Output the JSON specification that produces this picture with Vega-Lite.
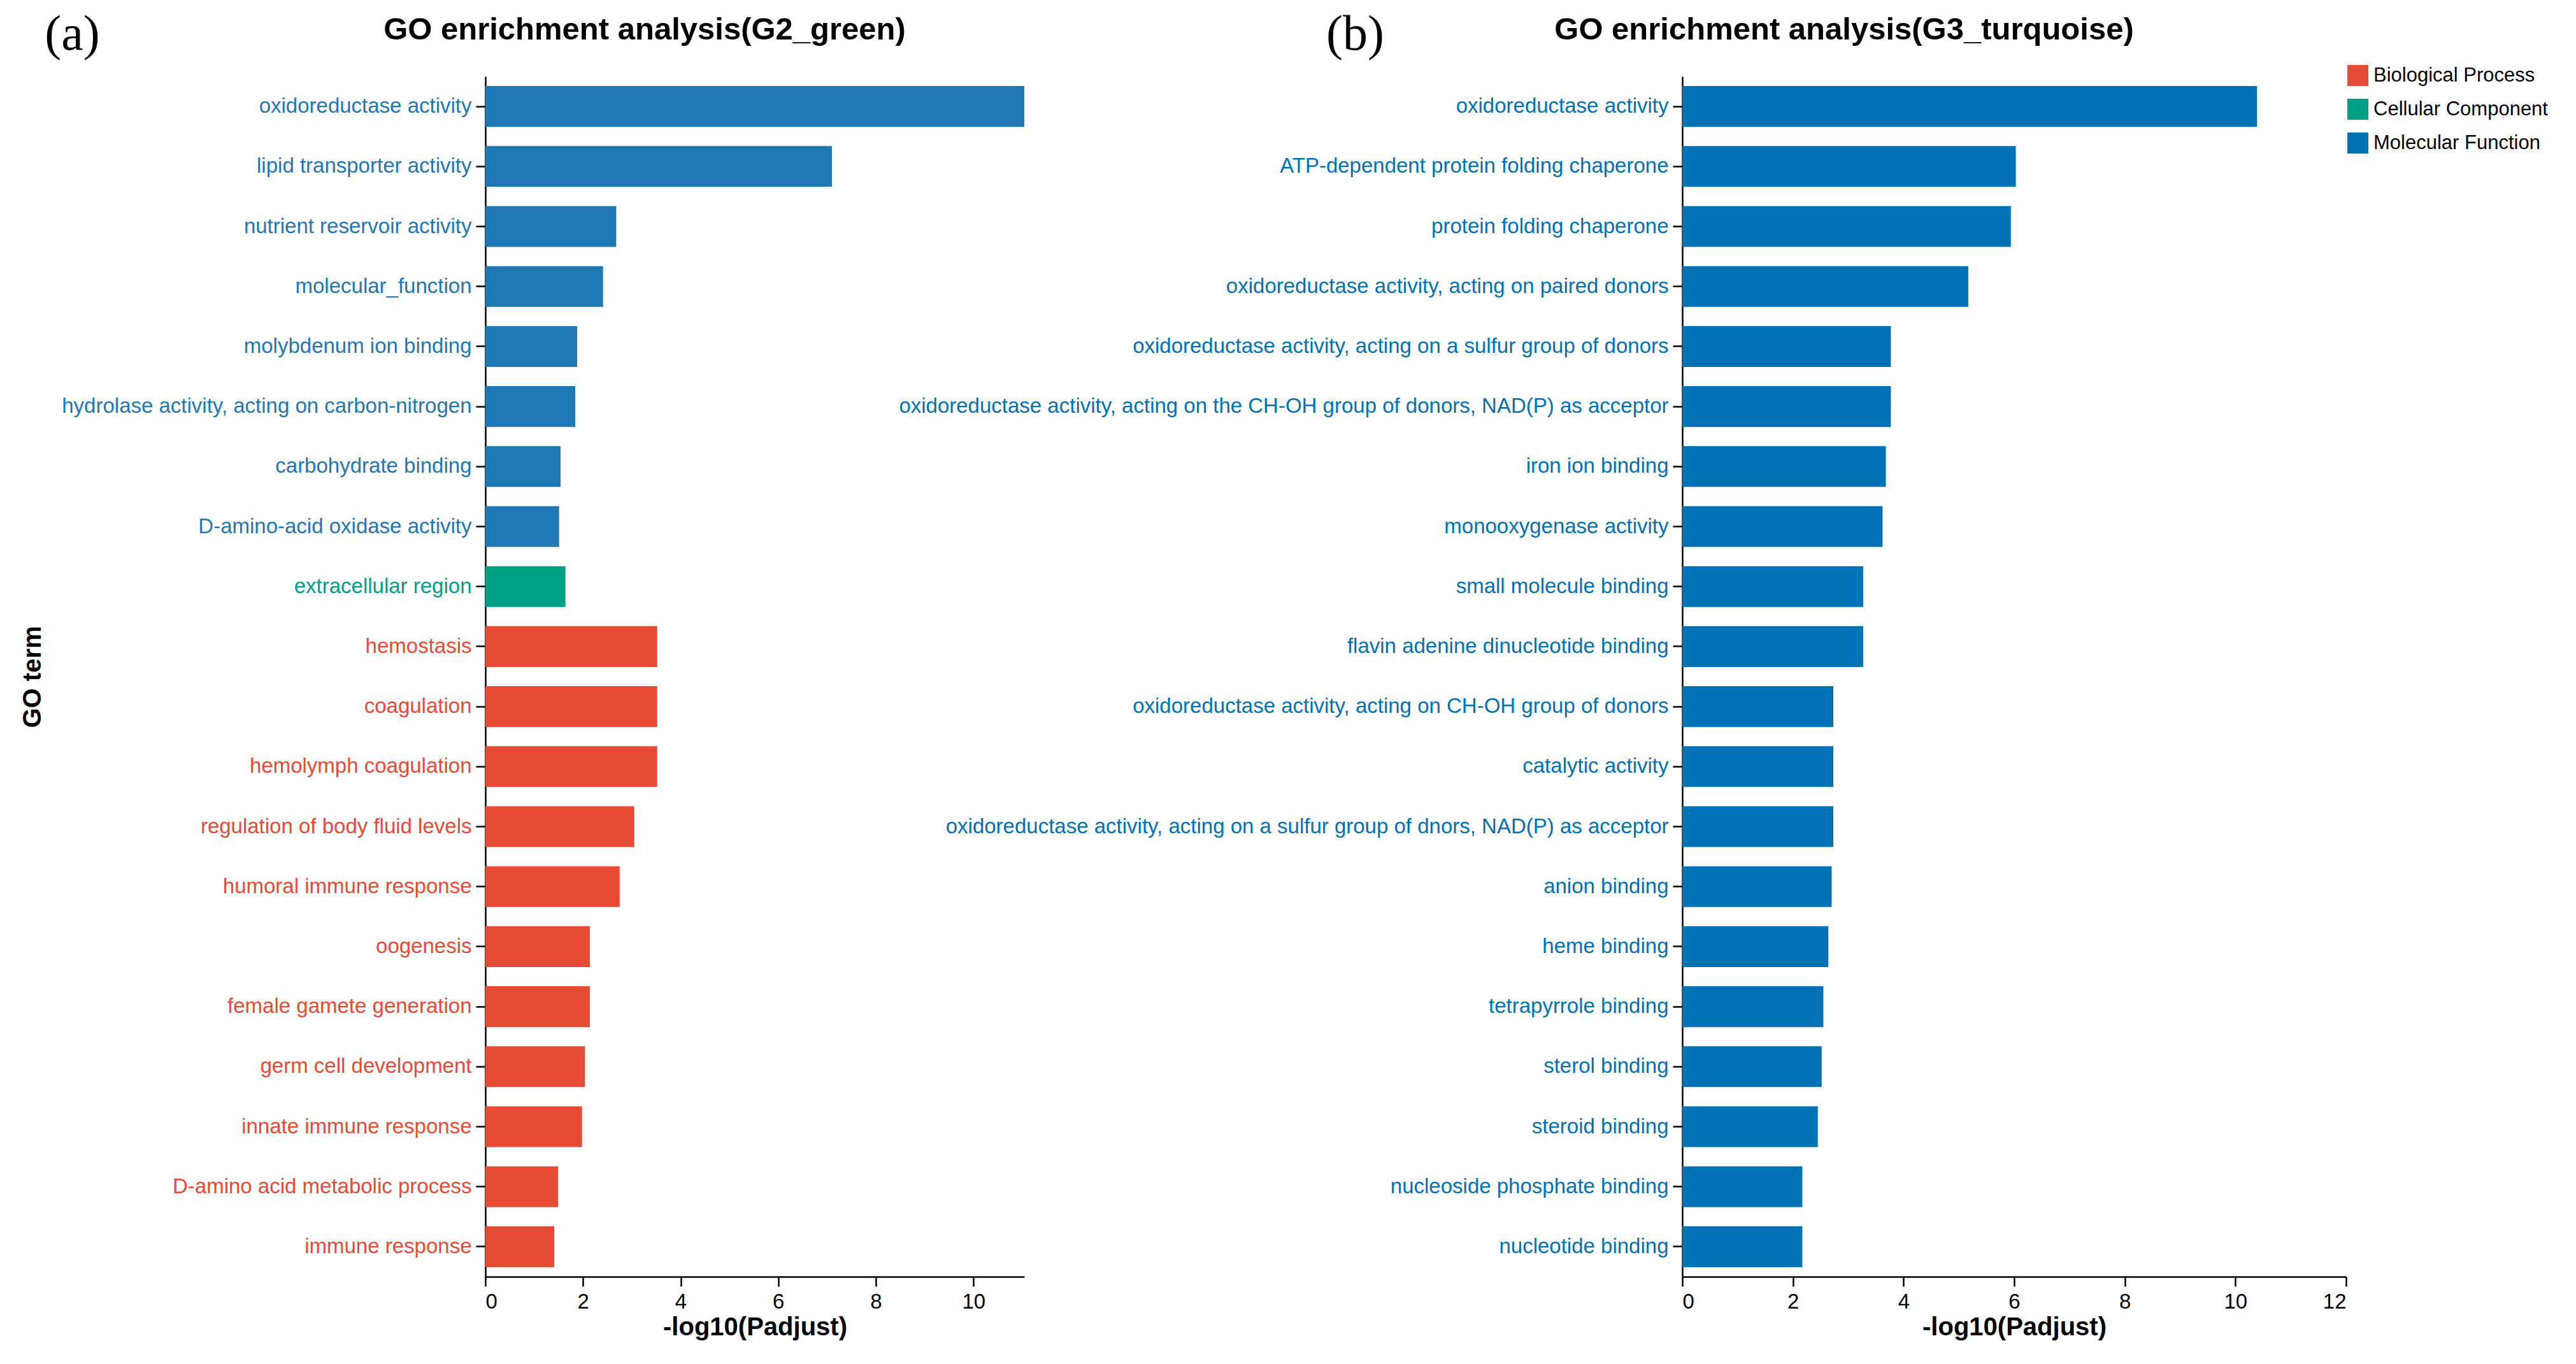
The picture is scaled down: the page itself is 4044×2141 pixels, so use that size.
{
  "$schema": "https://vega.github.io/schema/vega-lite/v6.json",
  "background": "white",
  "padding": {"left": 31, "top": 15, "right": 5, "bottom": 5},
  "config": {
    "view": {"stroke": null},
    "font": "Liberation Sans",
    "axis": {"grid": false, "domainColor": "black", "domainWidth": 2.5, "tickColor": "black", "tickWidth": 2.5, "tickSize": 15, "labelFont": "Liberation Sans", "titleFont": "Liberation Sans", "titleColor": "black", "maxExtent": 2000}
  },
  "bounds": "flush",
  "spacing": 1033,
  "resolve": {"scale": {"color": "independent", "x": "independent", "y": "independent"}, "legend": {"color": "independent"}},
  "hconcat": [
    {
      "width": 846,
      "height": 1884,
      "title": {"text": "GO enrichment analysis(G2_green)", "anchor": "middle", "frame": "group", "dx": -173, "offset": -96, "baseline": "alphabetic", "fontSize": 49, "fontWeight": "bold", "font": "Liberation Sans", "color": "black"},
      "data": {"values": [
        {"term": "oxidoreductase activity", "value": 11.04, "category": "Molecular Function"},
        {"term": "lipid transporter activity", "value": 7.10, "category": "Molecular Function"},
        {"term": "nutrient reservoir activity", "value": 2.68, "category": "Molecular Function"},
        {"term": "molecular_function", "value": 2.41, "category": "Molecular Function"},
        {"term": "molybdenum ion binding", "value": 1.88, "category": "Molecular Function"},
        {"term": "hydrolase activity, acting on carbon-nitrogen ", "value": 1.84, "category": "Molecular Function"},
        {"term": "carbohydrate binding", "value": 1.54, "category": "Molecular Function"},
        {"term": "D-amino-acid oxidase activity", "value": 1.51, "category": "Molecular Function"},
        {"term": "extracellular region", "value": 1.64, "category": "Cellular Component"},
        {"term": "hemostasis", "value": 3.52, "category": "Biological Process"},
        {"term": "coagulation", "value": 3.52, "category": "Biological Process"},
        {"term": "hemolymph coagulation", "value": 3.52, "category": "Biological Process"},
        {"term": "regulation of body fluid levels", "value": 3.05, "category": "Biological Process"},
        {"term": "humoral immune response", "value": 2.75, "category": "Biological Process"},
        {"term": "oogenesis", "value": 2.14, "category": "Biological Process"},
        {"term": "female gamete generation", "value": 2.14, "category": "Biological Process"},
        {"term": "germ cell development", "value": 2.04, "category": "Biological Process"},
        {"term": "innate immune response", "value": 1.98, "category": "Biological Process"},
        {"term": "D-amino acid metabolic process", "value": 1.49, "category": "Biological Process"},
        {"term": "immune response", "value": 1.41, "category": "Biological Process"}
      ]},
      "layer": [
        {
          "mark": {"type": "bar"},
          "encoding": {
            "y": {"field": "term", "type": "nominal", "sort": null,
              "scale": {"paddingInner": 0.32, "paddingOuter": 0.16},
              "axis": {"title": "GO term", "titleFontSize": 40, "titleFontWeight": "bold", "titlePadding": 25, "labelFontSize": 33, "labelPadding": 7, "labelLimit": 2000,
                "labelColor": {"expr": "indexof(['hemostasis','coagulation','hemolymph coagulation','regulation of body fluid levels','humoral immune response','oogenesis','female gamete generation','germ cell development','innate immune response','D-amino acid metabolic process','immune response'], datum.value) >= 0 ? '#E64B35' : (datum.value === 'extracellular region' ? '#00A087' : '#1F77B4')"}}},
            "x": {"field": "value", "type": "quantitative",
              "scale": {"domain": [0, 11.04], "nice": false},
              "axis": {"title": "-log10(Padjust)", "values": [0, 2, 4, 6, 8, 10], "labelFontSize": 33, "labelPadding": 8, "labelColor": "black", "titleFontSize": 40, "titleFontWeight": "bold", "titlePadding": 3}},
            "color": {"field": "category", "type": "nominal",
              "scale": {"domain": ["Biological Process", "Cellular Component", "Molecular Function"], "range": ["#E64B35", "#00A087", "#1F77B4"]},
              "legend": null}
          }
        },
        {
          "data": {"values": [{"anchor": 0}]},
          "mark": {"type": "rule", "opacity": 0},
          "encoding": {
            "x": {"field": "anchor", "type": "quantitative",
              "scale": {"domain": [0, 11.04], "nice": false},
              "axis": {"orient": "top", "title": "(a)", "labels": false, "ticks": false, "domain": false, "grid": false,
                "titleFont": "Liberation Serif", "titleFontSize": 78, "titleFontWeight": "normal", "titleColor": "black",
                "titleX": -649, "titleY": -43, "titleAlign": "center", "titleBaseline": "alphabetic", "titleAngle": 0}}
          }
        }
      ],
      "resolve": {"axis": {"x": "independent"}}
    },
    {
      "width": 1042,
      "height": 1884,
      "title": {"text": "GO enrichment analysis(G3_turquoise)", "anchor": "middle", "frame": "group", "dx": -267, "offset": -96, "baseline": "alphabetic", "fontSize": 49, "fontWeight": "bold", "font": "Liberation Sans", "color": "black"},
      "data": {"values": [
        {"term": "oxidoreductase activity", "value": 10.39, "category": "Molecular Function"},
        {"term": "ATP-dependent protein folding chaperone", "value": 6.03, "category": "Molecular Function"},
        {"term": "protein folding chaperone", "value": 5.94, "category": "Molecular Function"},
        {"term": "oxidoreductase activity, acting on paired donors", "value": 5.17, "category": "Molecular Function"},
        {"term": "oxidoreductase activity, acting on a sulfur group of donors", "value": 3.77, "category": "Molecular Function"},
        {"term": "oxidoreductase activity, acting on the CH-OH group of donors, NAD(P) as acceptor", "value": 3.77, "category": "Molecular Function"},
        {"term": "iron ion binding", "value": 3.68, "category": "Molecular Function"},
        {"term": "monooxygenase activity", "value": 3.62, "category": "Molecular Function"},
        {"term": "small molecule binding", "value": 3.27, "category": "Molecular Function"},
        {"term": "flavin adenine dinucleotide binding", "value": 3.27, "category": "Molecular Function"},
        {"term": "oxidoreductase activity, acting on CH-OH group of donors", "value": 2.73, "category": "Molecular Function"},
        {"term": "catalytic activity", "value": 2.73, "category": "Molecular Function"},
        {"term": "oxidoreductase activity, acting on a sulfur group of dnors, NAD(P) as acceptor", "value": 2.73, "category": "Molecular Function"},
        {"term": "anion binding", "value": 2.70, "category": "Molecular Function"},
        {"term": "heme binding", "value": 2.64, "category": "Molecular Function"},
        {"term": "tetrapyrrole binding", "value": 2.55, "category": "Molecular Function"},
        {"term": "sterol binding", "value": 2.52, "category": "Molecular Function"},
        {"term": "steroid binding", "value": 2.45, "category": "Molecular Function"},
        {"term": "nucleoside phosphate binding", "value": 2.17, "category": "Molecular Function"},
        {"term": "nucleotide binding", "value": 2.17, "category": "Molecular Function"}
      ]},
      "layer": [
        {
          "mark": {"type": "bar"},
          "encoding": {
            "y": {"field": "term", "type": "nominal", "sort": null,
              "scale": {"paddingInner": 0.32, "paddingOuter": 0.16},
              "axis": {"title": null, "labelFontSize": 33, "labelPadding": 7, "labelLimit": 2000, "labelColor": "#0072B5"}},
            "x": {"field": "value", "type": "quantitative",
              "scale": {"domain": [0, 12], "nice": false},
              "axis": {"title": "-log10(Padjust)", "values": [0, 2, 4, 6, 8, 10, 12], "labelFontSize": 33, "labelPadding": 8, "labelColor": "black", "titleFontSize": 40, "titleFontWeight": "bold", "titlePadding": 3}},
            "color": {"field": "category", "type": "nominal",
              "scale": {"domain": ["Biological Process", "Cellular Component", "Molecular Function"], "range": ["#E64B35", "#00A087", "#0072B5"]},
              "legend": {"orient": "none", "legendX": 1044, "legendY": -18, "title": null, "symbolType": "square", "symbolSize": 1089, "symbolStrokeWidth": 0, "symbolOpacity": 1,
                "labelFontSize": 31, "labelFont": "Liberation Sans", "labelColor": "black", "labelLimit": 1000, "labelOffset": 8, "rowPadding": 20, "padding": 0}}
          }
        },
        {
          "data": {"values": [{"anchor": 0}]},
          "mark": {"type": "rule", "opacity": 0},
          "encoding": {
            "x": {"field": "anchor", "type": "quantitative",
              "scale": {"domain": [0, 12], "nice": false},
              "axis": {"orient": "top", "title": "(b)", "labels": false, "ticks": false, "domain": false, "grid": false,
                "titleFont": "Liberation Serif", "titleFontSize": 78, "titleFontWeight": "normal", "titleColor": "black",
                "titleX": -514, "titleY": -43, "titleAlign": "center", "titleBaseline": "alphabetic", "titleAngle": 0}}
          }
        }
      ],
      "resolve": {"axis": {"x": "independent"}}
    }
  ]
}
